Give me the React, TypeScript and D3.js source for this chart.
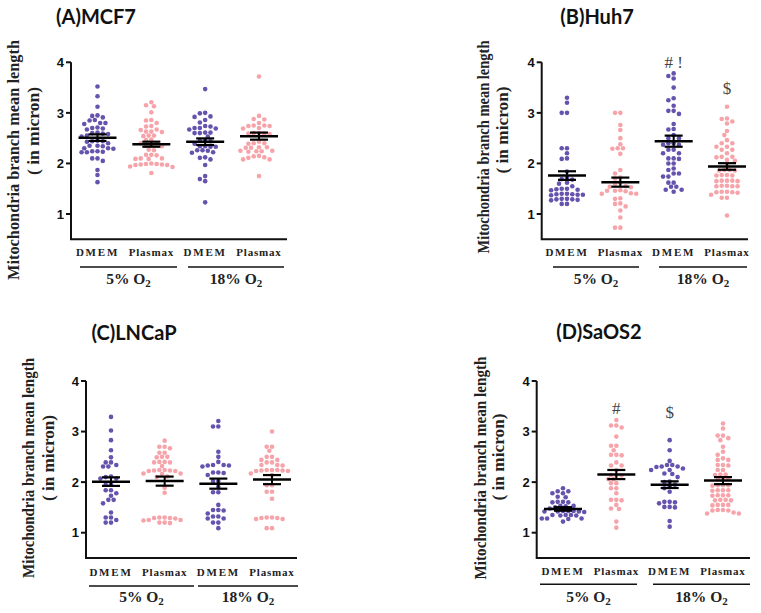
import React from "react";
import * as d3 from "d3";

// values (micron)
const categories = ["DMEM", "Plasmax", "DMEM", "Plasmax"];
const groups = ["5% O", "18% O"];
const yTicks = [1, 2, 3, 4];

const mcf7Dmem5 = [3.52, 3.33, 3.12, 2.95, 2.94, 2.91, 2.86, 2.85, 2.80, 2.80, 2.78, 2.71, 2.70, 2.69, 2.67, 2.61, 2.60, 2.59, 2.58, 2.55, 2.53, 2.45, 2.44, 2.44, 2.43, 2.40, 2.35, 2.35, 2.34, 2.30, 2.30, 2.29, 2.24, 2.24, 2.23, 2.22, 2.22, 2.10, 2.10, 2.05, 1.87, 1.77, 1.63];
const mcf7Plasmax5 = [3.21, 3.15, 3.13, 3.01, 2.86, 2.85, 2.80, 2.74, 2.73, 2.67, 2.66, 2.63, 2.63, 2.62, 2.55, 2.55, 2.54, 2.47, 2.46, 2.40, 2.40, 2.35, 2.35, 2.34, 2.27, 2.26, 2.17, 2.17, 2.16, 2.10, 2.10, 2.09, 2.09, 2.00, 1.99, 1.99, 1.98, 1.98, 1.97, 1.97, 1.94, 1.93, 1.81];
const mcf7Dmem18 = [3.47, 3.00, 2.99, 2.93, 2.92, 2.86, 2.81, 2.74, 2.73, 2.70, 2.70, 2.69, 2.67, 2.61, 2.61, 2.60, 2.60, 2.53, 2.45, 2.45, 2.44, 2.39, 2.34, 2.34, 2.33, 2.33, 2.26, 2.26, 2.25, 2.22, 2.21, 2.12, 2.11, 2.08, 1.97, 1.75, 1.69, 1.65, 1.23];
const mcf7Plasmax18 = [3.72, 2.94, 2.88, 2.87, 2.80, 2.75, 2.75, 2.74, 2.74, 2.70, 2.69, 2.60, 2.60, 2.59, 2.59, 2.58, 2.43, 2.40, 2.40, 2.39, 2.32, 2.32, 2.31, 2.31, 2.25, 2.25, 2.24, 2.24, 2.23, 2.15, 2.14, 2.12, 2.11, 2.08, 2.08, 1.75];
const mcf7Mean = [2.51, 2.38, 2.43, 2.54];
const mcf7Sem = [0.065, 0.05, 0.065, 0.07];

const huh7Dmem5 = [3.30, 3.20, 3.00, 3.00, 2.30, 2.30, 2.20, 2.10, 2.09, 1.84, 1.72, 1.69, 1.68, 1.62, 1.60, 1.55, 1.50, 1.50, 1.49, 1.48, 1.47, 1.40, 1.40, 1.39, 1.39, 1.38, 1.38, 1.37, 1.30, 1.30, 1.29, 1.29, 1.28, 1.27, 1.20, 1.20];
const huh7Plasmax5 = [3.00, 3.00, 2.76, 2.66, 2.50, 2.38, 2.30, 2.30, 2.29, 2.19, 1.87, 1.80, 1.72, 1.70, 1.62, 1.60, 1.55, 1.54, 1.53, 1.47, 1.46, 1.46, 1.45, 1.41, 1.40, 1.40, 1.31, 1.30, 1.21, 1.20, 1.15, 1.07, 0.93, 0.73, 0.73];
const huh7Dmem18 = [3.78, 3.73, 3.68, 3.50, 3.29, 3.25, 3.14, 3.04, 3.04, 2.98, 2.78, 2.68, 2.67, 2.56, 2.50, 2.50, 2.40, 2.40, 2.37, 2.37, 2.27, 2.27, 2.20, 2.20, 2.10, 2.10, 2.09, 2.00, 2.00, 1.90, 1.87, 1.80, 1.80, 1.74, 1.74, 1.62, 1.62, 1.54, 1.54, 1.48, 1.48, 1.44];
const huh7Plasmax18 = [3.12, 2.89, 2.88, 2.83, 2.79, 2.64, 2.56, 2.46, 2.40, 2.40, 2.33, 2.33, 2.27, 2.27, 2.20, 2.13, 2.13, 2.12, 2.07, 2.05, 1.96, 1.87, 1.87, 1.86, 1.86, 1.77, 1.77, 1.76, 1.76, 1.66, 1.66, 1.66, 1.65, 1.65, 1.56, 1.56, 1.55, 1.55, 1.55, 1.44, 1.44, 1.43, 1.43, 1.42, 1.38, 1.32, 1.32, 0.97];
const huh7Mean = [1.76, 1.63, 2.44, 1.94];
const huh7Sem = [0.085, 0.09, 0.11, 0.065];

const lncapDmem5 = [3.29, 3.02, 2.83, 2.63, 2.49, 2.39, 2.39, 2.34, 2.31, 2.31, 2.11, 2.10, 2.07, 2.07, 1.96, 1.95, 1.84, 1.84, 1.78, 1.73, 1.65, 1.65, 1.58, 1.40, 1.30, 1.30, 1.25, 1.20, 1.20];
const lncapPlasmax5 = [2.82, 2.70, 2.70, 2.67, 2.58, 2.58, 2.50, 2.50, 2.49, 2.40, 2.40, 2.39, 2.39, 2.32, 2.24, 2.24, 2.23, 2.23, 2.22, 2.22, 2.17, 2.17, 2.16, 2.11, 2.10, 1.89, 1.79, 1.30, 1.30, 1.29, 1.29, 1.28, 1.25, 1.25, 1.24, 1.20, 1.20, 1.19];
const lncapDmem18 = [3.21, 3.10, 3.10, 2.60, 2.50, 2.40, 2.34, 2.34, 2.33, 2.33, 2.31, 2.19, 2.19, 2.18, 2.14, 2.02, 2.02, 1.91, 1.80, 1.80, 1.55, 1.45, 1.45, 1.44, 1.38, 1.32, 1.32, 1.28, 1.28, 1.20, 1.20, 1.09];
const lncapPlasmax18 = [3.00, 2.70, 2.70, 2.62, 2.50, 2.50, 2.44, 2.44, 2.39, 2.39, 2.34, 2.34, 2.33, 2.24, 2.24, 2.24, 2.23, 2.23, 2.22, 2.22, 2.17, 2.14, 1.94, 1.94, 1.81, 1.81, 1.67, 1.30, 1.30, 1.29, 1.29, 1.27, 1.27, 1.09, 1.09];
const lncapMean = [2.01, 2.02, 1.97, 2.05];
const lncapSem = [0.085, 0.09, 0.1, 0.09];

const saos2Dmem5 = [1.88, 1.82, 1.82, 1.78, 1.78, 1.71, 1.70, 1.61, 1.61, 1.60, 1.60, 1.53, 1.53, 1.52, 1.50, 1.48, 1.43, 1.43, 1.43, 1.42, 1.42, 1.42, 1.41, 1.35, 1.35, 1.35, 1.34, 1.34, 1.28, 1.28, 1.28, 1.27, 1.22];
const saos2Plasmax5 = [3.23, 3.12, 3.12, 3.08, 2.90, 2.72, 2.72, 2.63, 2.54, 2.54, 2.53, 2.39, 2.33, 2.33, 2.24, 2.14, 2.14, 2.13, 2.06, 2.06, 1.98, 1.98, 1.88, 1.88, 1.78, 1.65, 1.65, 1.64, 1.55, 1.48, 1.47, 1.22, 1.10];
const saos2Dmem18 = [2.83, 2.63, 2.42, 2.34, 2.34, 2.31, 2.31, 2.30, 2.27, 2.24, 2.24, 2.17, 2.16, 2.10, 2.01, 2.00, 1.95, 1.91, 1.88, 1.81, 1.61, 1.61, 1.60, 1.58, 1.51, 1.51, 1.50, 1.23, 1.12];
const saos2Plasmax18 = [3.16, 3.06, 2.92, 2.92, 2.87, 2.83, 2.70, 2.60, 2.54, 2.47, 2.44, 2.44, 2.34, 2.34, 2.33, 2.24, 2.24, 2.15, 2.15, 2.14, 2.07, 2.07, 2.06, 1.94, 1.94, 1.94, 1.93, 1.84, 1.84, 1.84, 1.83, 1.74, 1.74, 1.74, 1.73, 1.65, 1.65, 1.64, 1.64, 1.55, 1.55, 1.55, 1.54, 1.45, 1.45, 1.44, 1.44, 1.40, 1.38, 1.38];
const saos2Mean = [1.47, 2.15, 1.95, 2.03];
const saos2Sem = [0.035, 0.09, 0.066, 0.07];

// significance marks: text and the value (y) where it sits
const huh7Marks = [null, null, { text: "# !", v: 4.0 }, { text: "$", v: 3.5 }];
const saos2Marks = [null, { text: "#", v: 3.47 }, { text: "$", v: 3.38 }, null];

const PURPLE = "#6553ad";
const PINK = "#f6a4aa";
const colors = [PURPLE, PINK, PURPLE, PINK];

const panels = [
  {
    title: "(A)MCF7", series: [mcf7Dmem5, mcf7Plasmax5, mcf7Dmem18, mcf7Plasmax18], mean: mcf7Mean, sem: mcf7Sem, marks: [],
    axisX: 71, axisEnd: 287, yTop: 62.3, yOne: 214, c0: 97.5, c3: 259, titleX: 96, titleY: 24,
    catY: 256, ulY: 267, ul: [[80, 177], [188, 284]], grpY: 284, l1: [13, 160, 240], l2: [33, 131, 88],
  },
  {
    title: "(B)Huh7", series: [huh7Dmem5, huh7Plasmax5, huh7Dmem18, huh7Plasmax18], mean: huh7Mean, sem: huh7Sem, marks: huh7Marks,
    axisX: 541.7, axisEnd: 748, yTop: 62.3, yOne: 214, c0: 567, c3: 727, titleX: 597, titleY: 24,
    catY: 256, ulY: 267, ul: [[553, 639], [659, 747]], grpY: 284, l1: [483, 147, 213], l2: [502, 130, 87],
  },
  {
    title: "(C)LNCaP", series: [lncapDmem5, lncapPlasmax5, lncapDmem18, lncapPlasmax18], mean: lncapMean, sem: lncapSem, marks: [],
    axisX: 86, axisEnd: 297, yTop: 381, yOne: 532.7, c0: 111, c3: 272, titleX: 134, titleY: 340,
    catY: 575.5, ulY: 586, ul: [[89, 194], [198, 298]], grpY: 602, l1: [28, 468, 220], l2: [48, 458, 86],
  },
  {
    title: "(D)SaOS2", series: [saos2Dmem5, saos2Plasmax5, saos2Dmem18, saos2Plasmax18], mean: saos2Mean, sem: saos2Sem, marks: saos2Marks,
    axisX: 536.7, axisEnd: 750, yTop: 381, yOne: 532.7, c0: 563, c3: 723, titleX: 599, titleY: 339,
    catY: 574.5, ulY: 584.3, ul: [[540, 637], [653, 750]], grpY: 602, l1: [480, 468, 223], l2: [498, 457, 87],
  },
];

const R = 2.3;
const MIN_D = 4.8;

// simple beeswarm: push each dot sideways until it does not overlap
function swarm(values: number[], y: (v: number) => number) {
  const sorted = [...values].sort((a, b) => b - a);
  const placed: { x: number; y: number }[] = [];
  const step = 2.65;
  sorted.forEach((v) => {
    const py = y(v);
    for (let k = 0; k < 60; k++) {
      const off = k === 0 ? 0 : (k % 2 === 1 ? -1 : 1) * Math.ceil(k / 2) * step;
      const hit = placed.some((p) => Math.hypot(p.x - off, p.y - py) < MIN_D);
      if (!hit) {
        placed.push({ x: off, y: py });
        break;
      }
    }
  });
  return placed;
}

const Panel = ({ p }: { p: any }) => {
  const y = d3.scaleLinear().domain([1, 4]).range([p.yOne, p.yTop]);
  const x = d3.scalePoint<number>().domain([0, 1, 2, 3]).range([p.c0, p.c3]);
  const yBottom = y(0.5);
  const serif = "'Liberation Serif', 'Times New Roman', serif";
  return (
    <g>
      <text x={p.titleX} y={p.titleY} textAnchor="middle" fontFamily="Lato, 'Open Sans', sans-serif" fontWeight="bold" fontSize={20} fill="#111">
        {p.title}
      </text>
      <text transform={`translate(${p.l1[0]},${p.l1[1]}) rotate(-90)`} textAnchor="middle" dominantBaseline="central"
        fontFamily={serif} fontWeight="bold" fontSize={16.5} fill="#222" textLength={p.l1[2]} lengthAdjust="spacingAndGlyphs">
        Mitochondria branch mean length
      </text>
      <text transform={`translate(${p.l2[0]},${p.l2[1]}) rotate(-90)`} textAnchor="middle" dominantBaseline="central"
        fontFamily={serif} fontWeight="bold" fontSize={16.5} fill="#222" textLength={p.l2[2]} lengthAdjust="spacingAndGlyphs">
        ( in micron)
      </text>
      {/* axes */}
      <path d={`M${p.axisX},${p.yTop}V${yBottom}H${p.axisEnd}`} fill="none" stroke="#111" strokeWidth={2} />
      {yTicks.map((t) => (
        <g key={t}>
          <line x1={p.axisX - 5} x2={p.axisX} y1={y(t)} y2={y(t)} stroke="#111" strokeWidth={2} />
          <text x={p.axisX - 7} y={y(t)} dy="0.36em" textAnchor="end" fontFamily="'Liberation Sans', Arial, sans-serif"
            fontWeight="bold" fontSize={13} fill="#111">{t}</text>
        </g>
      ))}
      {/* dots */}
      {p.series.map((vals: number[], i: number) =>
        swarm(vals, y).map((d, j) => (
          <circle key={`${i}-${j}`} cx={(x(i) as number) + d.x} cy={d.y} r={R} fill={colors[i]} />
        ))
      )}
      {/* mean and SEM */}
      {p.mean.map((m: number, i: number) => {
        const cx = x(i) as number;
        const hi = y(m + p.sem[i]);
        const lo = y(m - p.sem[i]);
        return (
          <g key={i} stroke="#000">
            <line x1={cx} x2={cx} y1={hi} y2={lo} strokeWidth={2} />
            <line x1={cx - 9} x2={cx + 9} y1={hi} y2={hi} strokeWidth={2.2} />
            <line x1={cx - 9} x2={cx + 9} y1={lo} y2={lo} strokeWidth={2.2} />
            <line x1={cx - 19} x2={cx + 19} y1={y(m)} y2={y(m)} strokeWidth={2.5} />
          </g>
        );
      })}
      {/* significance marks */}
      {p.marks.map((mk: any, i: number) =>
        mk ? (
          <text key={i} x={x(i) as number} y={y(mk.v)} dy="0.35em" textAnchor="middle" fontFamily={serif}
            fontSize={17} fill="#444">{mk.text}</text>
        ) : null
      )}
      {/* category labels */}
      {categories.map((c, i) => (
        <text key={i} x={x(i) as number} y={p.catY} textAnchor="middle" fontFamily={serif} fontWeight="bold"
          fontSize={11} letterSpacing={c === "DMEM" ? 1.8 : 0.8} fill="#222">{c}</text>
      ))}
      {groups.map((g, i) => (
        <g key={g}>
          <line x1={p.ul[i][0]} x2={p.ul[i][1]} y1={p.ulY} y2={p.ulY} stroke="#111" strokeWidth={1.6} />
          <text x={(p.ul[i][0] + p.ul[i][1]) / 2} y={p.grpY} textAnchor="middle" fontFamily={serif} fontWeight="bold"
            fontSize={15.5} fill="#222">
            {g}<tspan fontSize={11} dy={3}>2</tspan>
          </text>
        </g>
      ))}
    </g>
  );
};

export default function App() {
  return (
    <svg width={761} height={613} style={{ position: "absolute", left: 0, top: 0, background: "#fff" }}>
      <rect width={761} height={613} fill="#fff" />
      {panels.map((p) => (
        <Panel key={p.title} p={p} />
      ))}
    </svg>
  );
}
